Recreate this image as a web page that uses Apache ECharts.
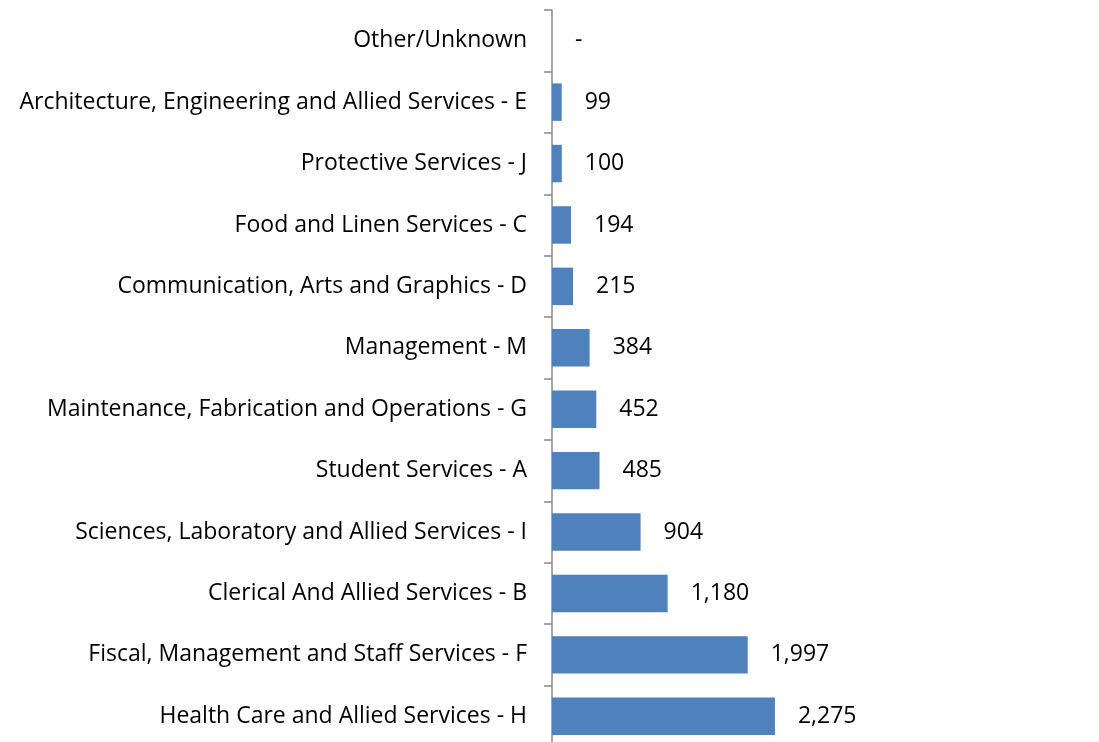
<!DOCTYPE html>
<html>
<head>
<meta charset="utf-8">
<script src="https://cdn.jsdelivr.net/npm/echarts@6/dist/echarts.min.js"></script>
<style>
  html, body { margin: 0; padding: 0; background: #fff; overflow: hidden; }
  #main { width: 1099px; height: 760px; }
</style>
</head>
<body>
<div id="main"></div>
<script>
// top to bottom, as in the picture
const categories = [
  'Other/Unknown',
  'Architecture, Engineering and Allied Services - E',
  'Protective Services - J',
  'Food and Linen Services - C',
  'Communication, Arts and Graphics - D',
  'Management - M',
  'Maintenance, Fabrication and Operations - G',
  'Student Services - A',
  'Sciences, Laboratory and Allied Services - I',
  'Clerical And Allied Services - B',
  'Fiscal, Management and Staff Services - F',
  'Health Care and Allied Services - H'
]
const counts = [0, 99, 100, 194, 215, 384, 452, 485, 904, 1180, 1997, 2275]

// the plot runs past the bottom edge of the picture, so the canvas is a bit taller than the window
const myChart = echarts.init(document.getElementById('main'))
const font = '"Open Sans", sans-serif'

const option = {
  animation: false,
  grid: {
    left: 552,
    top: 10,
    width: 490,
    height: 737,
    containLabel: false
  },
  xAxis: {
    type: 'value',
    min: 0,
    max: 5000,
    show: false
  },
  yAxis: {
    type: 'category',
    inverse: true,
    data: categories,
    axisLine: { lineStyle: { color: '#868686', width: 1.5 } },
    axisTick: { show: true, length: 8, lineStyle: { color: '#868686', width: 1.5 } },
    axisLabel: { color: '#000', fontSize: 23, fontFamily: font, margin: 25 },
    splitLine: { show: false }
  },
  series: [
    {
      type: 'bar',
      data: counts,
      barCategoryGap: '39%',
      itemStyle: { color: '#4F81BD' },
      label: {
        show: true,
        position: 'right',
        distance: 23,
        color: '#000',
        fontSize: 23,
        fontFamily: font,
        formatter: (p) => (p.value === 0 ? '-' : p.value.toLocaleString('en-US'))
      }
    }
  ]
}
option && myChart.setOption(option)
</script>
</body>
</html>
